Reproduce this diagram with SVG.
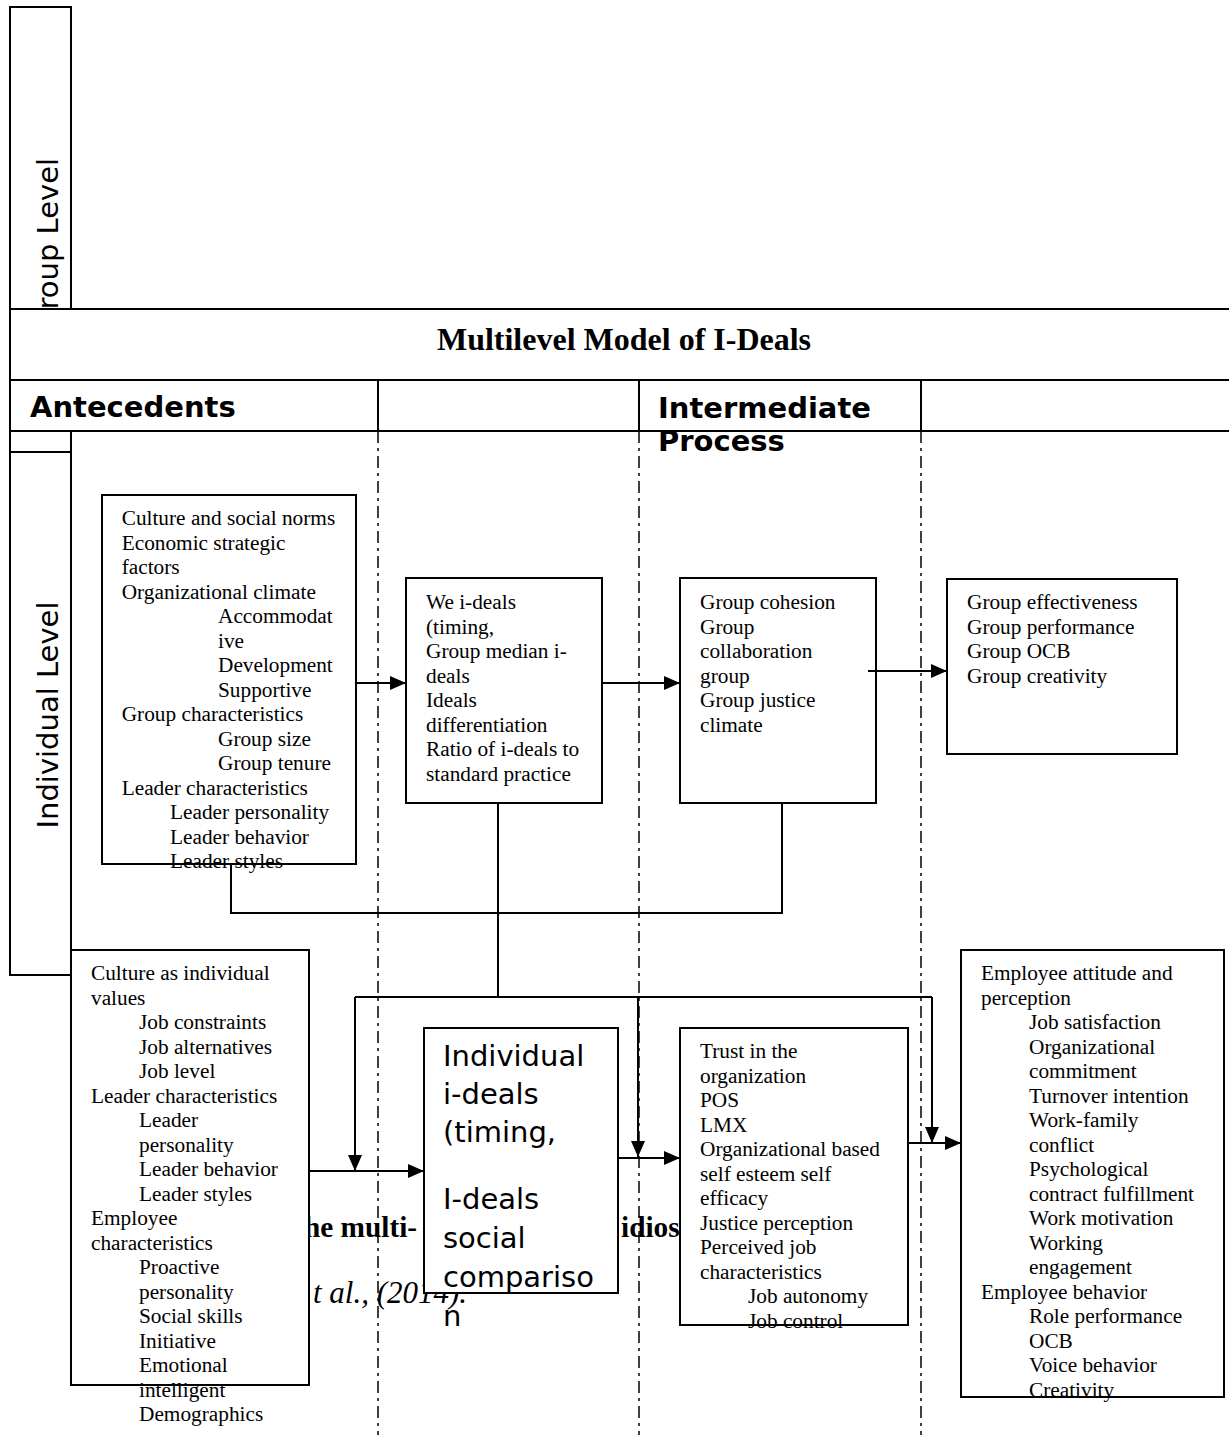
<svg xmlns="http://www.w3.org/2000/svg" width="1229" height="1435" viewBox="0 0 1229 1435">
<style>
.box{fill:#fff;stroke:#000;stroke-width:2}
.t{font-family:"Liberation Serif","Times New Roman",serif;font-size:21.3px;fill:#000}
.s{font-family:"DejaVu Sans",sans-serif;font-size:29px;fill:#000}
.hb{font-family:"DejaVu Sans",sans-serif;font-size:29px;font-weight:bold;fill:#000}
.cap{font-family:"Liberation Serif","Times New Roman",serif;font-size:29.3px;fill:#000}
.dd{fill:none;stroke:#000;stroke-width:1.5;stroke-dasharray:12 5 3 5}
.c{fill:none;stroke:#000;stroke-width:2}
</style>
<defs>
<marker id="ah" markerWidth="16" markerHeight="14" refX="16" refY="7" orient="auto" markerUnits="userSpaceOnUse">
<path d="M0,0 L16,7 L0,14 Z" fill="#000"/>
</marker>
</defs>
<rect width="1229" height="1435" fill="#fff"/>

<!-- partially hidden caption fragments -->
<g id="caption">
<text class="cap" x="304" y="1237" font-weight="bold">he multi-</text>
<text class="cap" x="621" y="1237" font-weight="bold">idios</text>
<text class="cap" x="313" y="1303" font-style="italic" style="font-size:31px">t al., (2014).</text>
</g>

<!-- level labels -->
<g id="group-level">
<rect class="box" x="10" y="7" width="61" height="445"/>
<text class="s" transform="translate(58,332) rotate(-90)">Group Level</text>
</g>

<g id="title">
<rect class="box" x="10" y="309" width="1230" height="71"/>
<text x="624" y="350" text-anchor="middle" style="font-family:'Liberation Serif','Times New Roman',serif;font-size:32px;font-weight:bold">Multilevel Model of I-Deals</text>
</g>

<g id="header">
<rect class="box" x="10" y="380" width="1230" height="51"/>
<line class="c" x1="378" y1="380" x2="378" y2="431"/>
<line class="c" x1="639" y1="380" x2="639" y2="431"/>
<line class="c" x1="921" y1="380" x2="921" y2="431"/>
<text class="hb" x="30" y="417">Antecedents</text>
<text class="hb" x="658" y="418">Intermediate</text>
<text class="hb" x="658" y="451">Process</text>
</g>

<g id="individual-level">
<rect class="box" x="10" y="452" width="61" height="523"/>
<text class="s" text-anchor="middle" transform="translate(58,715) rotate(-90)">Individual  Level</text>
</g>

<g id="group-antecedents">
<rect class="box" x="102" y="495" width="254" height="369"/>
<text class="t">
<tspan x="121.7" y="525">Culture and social norms</tspan>
<tspan x="121.7" y="549.5">Economic strategic</tspan>
<tspan x="121.7" y="574">factors</tspan>
<tspan x="121.7" y="598.5">Organizational climate</tspan>
<tspan x="218" y="623">Accommodat</tspan>
<tspan x="218" y="647.5">ive</tspan>
<tspan x="218" y="672">Development</tspan>
<tspan x="218" y="696.5">Supportive</tspan>
<tspan x="121.7" y="721">Group characteristics</tspan>
<tspan x="218" y="745.5">Group size</tspan>
<tspan x="218" y="770">Group tenure</tspan>
<tspan x="121.7" y="794.5">Leader characteristics</tspan>
<tspan x="170" y="819">Leader personality</tspan>
<tspan x="170" y="843.5">Leader behavior</tspan>
<tspan x="170" y="868">Leader styles</tspan>
</text>
</g>

<g id="we-ideals">
<rect class="box" x="406" y="578" width="196" height="225"/>
<text class="t">
<tspan x="426" y="609">We i-deals</tspan>
<tspan x="426" y="633.5">(timing,</tspan>
<tspan x="426" y="658">Group median i-</tspan>
<tspan x="426" y="682.5">deals</tspan>
<tspan x="426" y="707">Ideals</tspan>
<tspan x="426" y="731.5">differentiation</tspan>
<tspan x="426" y="756">Ratio of i-deals to</tspan>
<tspan x="426" y="780.5">standard practice</tspan>
</text>
</g>

<g id="group-process">
<rect class="box" x="680" y="578" width="196" height="225"/>
<text class="t">
<tspan x="700" y="609">Group cohesion</tspan>
<tspan x="700" y="633.5">Group</tspan>
<tspan x="700" y="658">collaboration</tspan>
<tspan x="700" y="682.5">group</tspan>
<tspan x="700" y="707">Group justice</tspan>
<tspan x="700" y="731.5">climate</tspan>
</text>
</g>

<g id="group-outcomes">
<rect class="box" x="947" y="579" width="230" height="175"/>
<text class="t">
<tspan x="967" y="609">Group effectiveness</tspan>
<tspan x="967" y="633.5">Group performance</tspan>
<tspan x="967" y="658">Group OCB</tspan>
<tspan x="967" y="682.5">Group creativity</tspan>
</text>
</g>

<g id="individual-antecedents">
<rect class="box" x="71" y="950" width="238" height="435"/>
<text class="t">
<tspan x="91" y="980">Culture as individual</tspan>
<tspan x="91" y="1004.5">values</tspan>
<tspan x="139" y="1029">Job constraints</tspan>
<tspan x="139" y="1053.5">Job alternatives</tspan>
<tspan x="139" y="1078">Job level</tspan>
<tspan x="91" y="1102.5">Leader characteristics</tspan>
<tspan x="139" y="1127">Leader</tspan>
<tspan x="139" y="1151.5">personality</tspan>
<tspan x="139" y="1176">Leader behavior</tspan>
<tspan x="139" y="1200.5">Leader styles</tspan>
<tspan x="91" y="1225">Employee</tspan>
<tspan x="91" y="1249.5">characteristics</tspan>
<tspan x="139" y="1274">Proactive</tspan>
<tspan x="139" y="1298.5">personality</tspan>
<tspan x="139" y="1323">Social skills</tspan>
<tspan x="139" y="1347.5">Initiative</tspan>
<tspan x="139" y="1372">Emotional</tspan>
<tspan x="139" y="1396.5">intelligent</tspan>
<tspan x="139" y="1421">Demographics</tspan>
</text>
</g>

<g id="individual-ideals">
<rect class="box" x="424" y="1028" width="194" height="265"/>
<text class="s">
<tspan x="443" y="1066">Individual</tspan>
<tspan x="443" y="1104">i-deals</tspan>
<tspan x="443" y="1142">(timing,</tspan>
<tspan x="443" y="1209">I-deals</tspan>
<tspan x="443" y="1248">social</tspan>
<tspan x="443" y="1287">compariso</tspan>
<tspan x="443" y="1326">n</tspan>
</text>
</g>

<g id="individual-process">
<rect class="box" x="680" y="1028" width="228" height="297"/>
<text class="t">
<tspan x="700" y="1058">Trust in the</tspan>
<tspan x="700" y="1082.5">organization</tspan>
<tspan x="700" y="1107">POS</tspan>
<tspan x="700" y="1131.5">LMX</tspan>
<tspan x="700" y="1156">Organizational based</tspan>
<tspan x="700" y="1180.5">self esteem self</tspan>
<tspan x="700" y="1205">efficacy</tspan>
<tspan x="700" y="1229.5">Justice perception</tspan>
<tspan x="700" y="1254">Perceived job</tspan>
<tspan x="700" y="1278.5">characteristics</tspan>
<tspan x="748" y="1303">Job autonomy</tspan>
<tspan x="748" y="1327.5">Job control</tspan>
</text>
</g>

<g id="individual-outcomes">
<rect class="box" x="961" y="950" width="263" height="447"/>
<text class="t">
<tspan x="981" y="980">Employee attitude and</tspan>
<tspan x="981" y="1004.5">perception</tspan>
<tspan x="1029" y="1029">Job satisfaction</tspan>
<tspan x="1029" y="1053.5">Organizational</tspan>
<tspan x="1029" y="1078">commitment</tspan>
<tspan x="1029" y="1102.5">Turnover intention</tspan>
<tspan x="1029" y="1127">Work-family</tspan>
<tspan x="1029" y="1151.5">conflict</tspan>
<tspan x="1029" y="1176">Psychological</tspan>
<tspan x="1029" y="1200.5">contract fulfillment</tspan>
<tspan x="1029" y="1225">Work motivation</tspan>
<tspan x="1029" y="1249.5">Working</tspan>
<tspan x="1029" y="1274">engagement</tspan>
<tspan x="981" y="1298.5">Employee behavior</tspan>
<tspan x="1029" y="1323">Role performance</tspan>
<tspan x="1029" y="1347.5">OCB</tspan>
<tspan x="1029" y="1372">Voice behavior</tspan>
<tspan x="1029" y="1396.5">Creativity</tspan>
</text>
</g>

<g id="dividers">
<line class="dd" x1="378" y1="431" x2="378" y2="1435"/>
<line class="dd" x1="639" y1="431" x2="639" y2="1435"/>
<line class="dd" x1="921" y1="431" x2="921" y2="1435"/>
</g>

<g id="connectors">
<line class="c" x1="356" y1="683" x2="406" y2="683" marker-end="url(#ah)"/>
<line class="c" x1="602" y1="683" x2="680" y2="683" marker-end="url(#ah)"/>
<line class="c" x1="868" y1="671" x2="947" y2="671" marker-end="url(#ah)"/>
<polyline class="c" points="231,864 231,913 782,913 782,803"/>
<line class="c" x1="498" y1="803" x2="498" y2="997"/>
<line class="c" x1="355" y1="997" x2="932" y2="997"/>
<polyline class="c" points="355,997 355,1171" marker-end="url(#ah)"/>
<polyline class="c" points="638,997 638,1157" marker-end="url(#ah)"/>
<polyline class="c" points="932,997 932,1143" marker-end="url(#ah)"/>
<line class="c" x1="309" y1="1171" x2="424" y2="1171" marker-end="url(#ah)"/>
<line class="c" x1="618" y1="1158" x2="680" y2="1158" marker-end="url(#ah)"/>
<line class="c" x1="908" y1="1143" x2="961" y2="1143" marker-end="url(#ah)"/>
</g>
</svg>
